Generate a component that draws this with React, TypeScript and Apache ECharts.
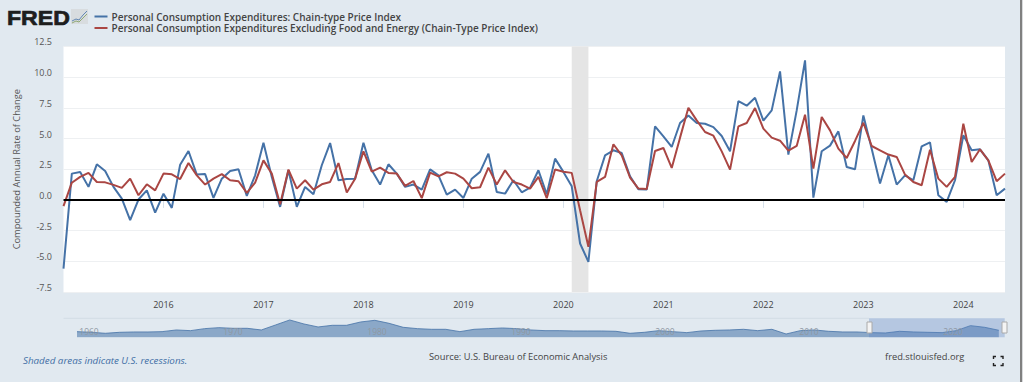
import React, { useEffect, useRef } from "react";
import * as echarts from "echarts";

const START_YEAR = 2015;
const months: string[] = [];
for (let i = 0; i < 114; i++) {
  const y = START_YEAR + Math.floor(i / 12);
  const m = (i % 12) + 1;
  months.push(`${y}-${m < 10 ? "0" + m : m}`);
}

const pceNames = [
  "Personal Consumption Expenditures: Chain-type Price Index",
  "Personal Consumption Expenditures Excluding Food and Energy (Chain-Type Price Index)",
];

const pce = [
  -5.6, 2.14, 2.28, 1.06, 2.9, 2.36, 1.06, 0.1, -1.65, 0.03, 0.78, -1.03,
  0.5, -0.65, 2.87, 3.98, 2.06, 2.1, 0.16, 1.73, 2.36, 2.49, 0.33, 2.0,
  4.66, 1.87, -0.57, 2.41, -0.57, 1.06, 0.46, 2.82, 4.63, 1.6, 1.7, 1.73,
  4.66, 2.41, 1.25, 2.9, 2.14, 1.06, 1.25, 0.84, 2.49, 2.0, 0.43, 0.84,
  0.16, 1.73, 2.28, 3.77, 0.65, 0.51, 1.6, 0.62, 1.0, 2.41, 0.46, 3.36,
  2.28, 1.11, -3.55, -5.04, 1.52, 3.63, 4.04, 3.82, 1.92, 0.87, 0.84, 5.99,
  5.18, 4.31, 6.26, 6.88, 6.26, 6.2, 5.93, 5.2, 3.96, 8.05, 7.67, 8.32,
  6.45, 7.29, 10.46, 3.69, 7.29, 11.36, 0.19, 3.96, 4.42, 5.58, 2.68, 2.49,
  6.88, 4.17, 1.33, 3.63, 1.25, 2.0, 1.6, 4.36, 4.69, 0.38, -0.16, 1.6,
  5.26, 4.04, 4.12, 3.22, 0.38, 0.92,
];

const pceCore = [
  -0.5, 1.4, 1.87, 2.2, 1.46, 1.43, 1.22, 0.98, 1.73, 0.38, 1.27, 0.78,
  2.14, 2.08, 1.7, 3.0, 2.0, 1.25, 1.73, 2.1, 1.6, 1.52, 0.57, 1.41,
  3.22, 2.14, -0.35, 2.47, 0.92, 1.6, 0.84, 1.27, 1.46, 3.0, 0.6, 1.73,
  3.96, 2.3, 2.63, 2.2, 2.14, 1.14, 1.54, 0.14, 2.22, 1.92, 2.25, 2.14,
  1.73, 0.95, 1.03, 2.63, 1.25, 2.41, 1.46, 1.25, 0.92, 1.87, 0.14, 2.47,
  2.3, 2.2, -0.84, -3.82, 1.46, 1.87, 4.53, 3.63, 1.82, 0.92, 0.89, 3.98,
  4.23, 2.6, 5.07, 7.5, 6.48, 5.53, 5.23, 3.95, 2.47, 5.99, 6.26, 7.48,
  5.8, 5.07, 4.82, 4.01, 4.39, 6.94, 2.55, 6.75, 5.66, 4.17, 3.41, 4.8,
  6.28, 4.39, 4.04, 3.69, 3.5, 2.06, 1.46, 1.19, 4.09, 1.73, 1.06, 1.87,
  6.2, 3.09, 4.12, 3.22, 1.52, 2.14,
];

const recessionStart = "2020-02";
const recessionEnd = "2020-04";

const navYears: number[] = [];
for (let y = 1959; y <= 2024; y++) navYears.push(y);
const navValues = [
  1.78, 1.33, 0.67, 1.33, 1.56, 1.56, 1.78, 2.89, 2.44, 3.78,
  4.44, 4.0, 4.0, 2.89, 6.22, 9.56, 6.89, 4.89, 6.0, 6.0,
  8.22, 9.33, 7.33, 4.67, 3.78, 3.33, 3.33, 1.78, 3.33, 3.78,
  4.22, 3.78, 2.89, 2.44, 2.44, 2.22, 2.22, 2.22, 2.0, 0.67,
  1.33, 2.44, 1.78, 1.11, 2.22, 2.67, 2.89, 3.33, 2.44, 3.33,
  0.22, 2.44, 2.89, 2.0, 1.56, 1.56, 1.11, 0.89, 2.0, 1.56,
  1.33, 1.11, 2.44, 5.78, 4.67, 2.67,
];
const navLabels = [1960, 1970, 1980, 1990, 2000, 2010, 2020];

const BG = "#e1e9f0";
const BLUE = "#4572a7";
const RED = "#aa4643";
const FONT = "'Open Sans', sans-serif";

export default function App() {
  const ref = useRef<HTMLDivElement>(null);
  useEffect(() => {
    document.body.style.margin = "0";
    const chart = echarts.init(ref.current!, undefined, { renderer: "svg" });
    const showYear = (i: number) => i > 0 && i % 12 === 0;
    chart.setOption({
      animation: false,
      backgroundColor: BG,
      textStyle: { fontFamily: FONT },
      legend: {
        left: 94.5,
        top: 11.5,
        orient: "vertical",
        icon: "rect",
        itemWidth: 13,
        itemHeight: 2,
        itemGap: 1.5,
        padding: 0,
        selectedMode: false,
        data: pceNames,
        textStyle: { fontFamily: FONT, fontSize: 10, fontWeight: 600, color: "#444", padding: [0, 0, 0, -1], lineHeight: 10 },
      },
      grid: [
        { left: 63.5, right: 19, top: 46.4, height: 245.6, show: true, backgroundColor: "#fff", borderWidth: 0 },
        { left: 77, right: 19.5, top: 318.3, height: 19, show: false },
      ],
      xAxis: [
        {
          type: "category",
          gridIndex: 0,
          data: months,
          boundaryGap: false,
          axisLine: { show: false },
          axisTick: { show: true, length: 8, interval: showYear, lineStyle: { color: "#d6e0ea" } },
          axisLabel: {
            interval: showYear,
            margin: 7.5,
            fontSize: 9,
            color: "#444",
            fontFamily: FONT,
            formatter: (v: string) => v.slice(0, 4),
          },
          splitLine: { show: false },
        },
        {
          type: "value",
          gridIndex: 1,
          min: 1959,
          max: 2024.4,
          show: false,
        },
      ],
      yAxis: [
        {
          type: "value",
          gridIndex: 0,
          min: -7.5,
          max: 12.5,
          interval: 2.5,
          name: "Compounded Annual Rate of Change",
          nameLocation: "middle",
          nameGap: 43,
          nameTextStyle: { fontFamily: FONT, fontSize: 9.3, color: "#555" },
          axisLine: { show: false },
          axisTick: { show: false },
          axisLabel: {
            margin: 11.5,
            fontSize: 9,
            color: "#555",
            fontFamily: FONT,
            verticalAlign: "bottom",
            formatter: (v: number) => v.toFixed(1),
          },
          splitLine: { lineStyle: { color: "#eef0f2", width: 1 } },
        },
        { type: "value", gridIndex: 1, min: -2, max: 10.67, show: false },
      ],
      series: [
        {
          name: pceNames[0],
          type: "line",
          xAxisIndex: 0,
          yAxisIndex: 0,
          data: pce,
          symbol: "none",
          lineStyle: { color: BLUE, width: 2 },
          itemStyle: { color: BLUE },
          markArea: {
            silent: true,
            itemStyle: { color: "#e5e5e5" },
            data: [[{ xAxis: recessionStart }, { xAxis: recessionEnd }]],
          },
          markLine: {
            silent: true,
            symbol: "none",
            label: { show: false },
            lineStyle: { color: "#000", width: 2, type: "solid" },
            data: [{ yAxis: 0 }],
          },
        },
        {
          name: pceNames[1],
          type: "line",
          xAxisIndex: 0,
          yAxisIndex: 0,
          data: pceCore,
          symbol: "none",
          lineStyle: { color: RED, width: 2 },
          itemStyle: { color: RED },
        },
        {
          type: "line",
          xAxisIndex: 1,
          yAxisIndex: 1,
          data: navYears.map((y, i) => [y, navValues[i]]),
          symbol: "none",
          lineStyle: { color: BLUE, width: 0.8 },
          areaStyle: { color: BLUE, opacity: 0.55, origin: "start" },
        },
      ],
      graphic: [
        { type: "rect", z: 20, shape: { x: 1020, y: 0, width: 2.5, height: 382 }, style: { fill: "#808080" } },
        { type: "rect", z: 20, shape: { x: 1022.5, y: 0, width: 1.5, height: 382 }, style: { fill: "#fff" } },
        // FRED logo
        { type: "text", z: 20, x: 7, y: 7, scaleX: 1.1, style: { text: "FRED", fontFamily: "'Liberation Sans', sans-serif", fontWeight: "bold", fontSize: 21, fill: "#1e1e1e", stroke: "#1e1e1e", lineWidth: 0.7 } },
        { type: "rect", z: 20, shape: { x: 71, y: 9, width: 17, height: 15 }, style: { fill: "#d8dcdf" } },
        { type: "polyline", z: 21, shape: { points: [[72, 21], [76, 19], [79, 20], [83, 15], [87, 11]] }, style: { fill: "none", stroke: "#4572a7", lineWidth: 0.8 } },
        { type: "polyline", z: 21, shape: { points: [[72, 23], [76, 21], [79, 22], [83, 18], [87, 14]] }, style: { fill: "none", stroke: "#7d9a5a", lineWidth: 0.8 } },
        // navigator
        { type: "line", z: 20, shape: { x1: 63.5, y1: 318.3, x2: 869, y2: 318.3 }, style: { stroke: "#d3dce5", lineWidth: 1 } },
        { type: "rect", z: 20, shape: { x: 869, y: 318.3, width: 135.7, height: 19 }, style: { fill: "rgba(90,130,195,0.33)" } },
        ...navLabels.map((yr) => ({
          type: "text",
          z: 22,
          x: 89 + (yr - 1960) * 14.4,
          y: 331,
          style: { text: String(yr), fontFamily: FONT, fontSize: 8.5, fill: "#8f98a3", align: "center", verticalAlign: "middle" },
        })),
        { type: "rect", z: 23, shape: { x: 867, y: 322, width: 5, height: 11 }, style: { fill: "#f4f4f4", stroke: "#aaa", lineWidth: 1 } },
        { type: "rect", z: 23, shape: { x: 1002, y: 322, width: 5, height: 11 }, style: { fill: "#f4f4f4", stroke: "#aaa", lineWidth: 1 } },
        // footer
        { type: "text", z: 20, x: 23, y: 360, style: { text: "Shaded areas indicate U.S. recessions.", fontFamily: FONT, fontStyle: "italic", fontSize: 9.8, fill: "#3f6ea5", verticalAlign: "middle" } },
        { type: "text", z: 20, x: 429, y: 356, style: { text: "Source: U.S. Bureau of Economic Analysis", fontFamily: FONT, fontSize: 9.3, fill: "#444", verticalAlign: "middle" } },
        { type: "text", z: 20, x: 885, y: 356, style: { text: "fred.stlouisfed.org", fontFamily: FONT, fontSize: 9.3, fill: "#444", verticalAlign: "middle" } },
        // fullscreen icon
        ...[
          [[993.5, 359], [993.5, 356.5], [996, 356.5]],
          [[1000.5, 356.5], [1003, 356.5], [1003, 359]],
          [[993.5, 363], [993.5, 365.5], [996, 365.5]],
          [[1000.5, 365.5], [1003, 365.5], [1003, 363]],
        ].map((points) => ({
          type: "polyline",
          z: 20,
          shape: { points },
          style: { fill: "none", stroke: "#222", lineWidth: 1.4 },
        })),
      ],
    });
    return () => chart.dispose();
  }, []);
  return <div ref={ref} style={{ width: 1024, height: 382 }} />;
}
